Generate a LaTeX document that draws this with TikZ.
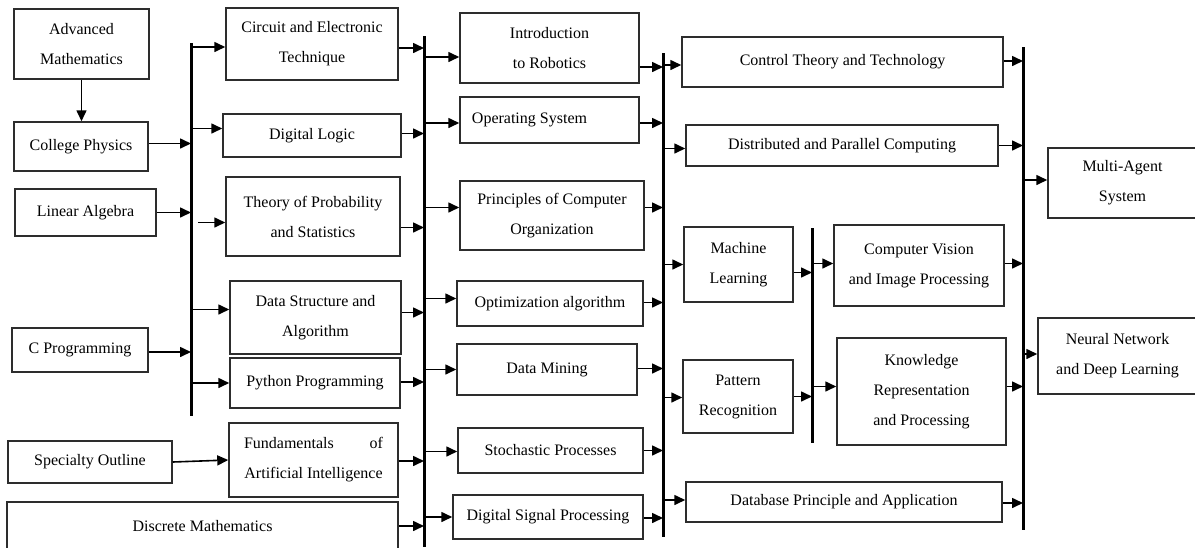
\documentclass[tikz,border=0pt]{standalone}
\usepackage{fontspec}
\setmainfont{Liberation Serif}
\usetikzlibrary{arrows.meta, calc}
\definecolor{boxgray}{RGB}{45,45,45}

\begin{document}
\begin{tikzpicture}[
  x=1pt, y=-1pt,
  cbox/.style={draw=boxgray, line width=1.5pt, align=center, inner sep=2pt, font=\fontsize{16}{30}\selectfont},
  bar/.style={line width=3pt, black},
  arr/.style={line width=1.6pt, -{Triangle[length=11pt, width=10pt]}}
]
  \useasboundingbox (0,0) rectangle (1195,547);

  % basic courses
  \node[cbox, minimum width=135pt, minimum height=70pt] (advmath) at (81.5,44) {Advanced\\Mathematics};
  \node[cbox, minimum width=134pt, minimum height=49pt] (physics) at (81,146.5) {College Physics};
  \node[cbox, minimum width=141pt, minimum height=47pt] (linalg) at (85.5,212.5) {Linear Algebra};
  \node[cbox, minimum width=136pt, minimum height=44pt] (cprog) at (80,350) {C Programming};
  \node[cbox, minimum width=164pt, minimum height=42pt] (outline) at (90,462) {Specialty Outline};
  \node[cbox, minimum width=391pt, minimum height=48pt] (discrete) at (202.5,526) {Discrete Mathematics};

  % second column
  \node[cbox, minimum width=172pt, minimum height=72pt] (circuit) at (312,44) {Circuit and Electronic\\Technique};
  \node[cbox, minimum width=178pt, minimum height=43pt] (diglogic) at (312,135.5) {Digital Logic};
  \node[cbox, minimum width=174pt, minimum height=79pt] (probab) at (313,216.5) {Theory of Probability\\and Statistics};
  \node[cbox, minimum width=171pt, minimum height=73pt] (datastruct) at (315.5,317.5) {Data Structure and\\Algorithm};
  \node[cbox, minimum width=170pt, minimum height=50pt] (python) at (315,383) {Python Programming};
  \node[cbox, minimum width=169pt, minimum height=74pt] (aifund) at (313.5,460) {\makebox[139pt][s]{Fundamentals of}\\Artificial Intelligence};

  % third column
  \node[cbox, minimum width=179pt, minimum height=70pt] (robotics) at (549.5,48) {Introduction\\to Robotics};
  \node[cbox, minimum width=179pt, minimum height=46pt] (opsys) at (549.5,120) {Operating System\hspace*{40pt}};
  \node[cbox, minimum width=184pt, minimum height=69pt] (organiz) at (552,215.5) {Principles of Computer\\Organization};
  \node[cbox, minimum width=186pt, minimum height=45pt] (optim) at (550,303.5) {Optimization algorithm};
  \node[cbox, minimum width=180pt, minimum height=51pt] (mining) at (547,369.5) {Data Mining};
  \node[cbox, minimum width=185pt, minimum height=45pt] (stochastic) at (550.5,450.5) {Stochastic Processes};
  \node[cbox, minimum width=190pt, minimum height=44pt] (signal) at (548,517) {Digital Signal Processing};

  % fourth column
  \node[cbox, minimum width=321pt, minimum height=50pt] (control) at (842.5,62) {Control Theory and Technology};
  \node[cbox, minimum width=312pt, minimum height=41pt] (distrib) at (842,145.5) {Distributed and Parallel Computing};
  \node[cbox, minimum width=109pt, minimum height=75pt] (mlearn) at (738.5,264.5) {Machine\\Learning};
  \node[cbox, minimum width=110pt, minimum height=73pt] (pattern) at (738,396.5) {Pattern\\Recognition};
  \node[cbox, minimum width=316pt, minimum height=40pt] (database) at (844,502) {Database Principle and Application};
  \node[cbox, minimum width=170pt, minimum height=81pt] (vision) at (919,265.5) {Computer Vision\\and Image Processing};
  \node[cbox, minimum width=169pt, minimum height=107pt] (knowledge) at (921.5,391.5) {Knowledge\\Representation\\and Processing};

  % last column
  \node[cbox, minimum width=149pt, minimum height=70pt] (multiagent) at (1122.5,183) {Multi-Agent\\System};
  \node[cbox, minimum width=159pt, minimum height=76pt] (neural) at (1117.5,356) {Neural Network\\and Deep Learning};

  % collecting bars
  \coordinate (b1t) at (191,43);   \coordinate (b1b) at (191,416);
  \coordinate (b2t) at (424,36);   \coordinate (b2b) at (424,547);
  \coordinate (b3t) at (663,53);   \coordinate (b3b) at (663,537);
  \coordinate (b4t) at (812,228);  \coordinate (b4b) at (812,443);
  \coordinate (b5t) at (1023,47);  \coordinate (b5b) at (1023,530);
  \foreach \b in {1,...,5}
    \draw[bar] (b\b t) -- (b\b b);

  % arrows
  \draw[arr] (advmath.south) -- (advmath.south |- physics.north);
  \draw[arr] (outline.east) -- (aifund.west);

  \foreach \n/\dy in {physics/-3, linalg/0, cprog/2}
    \draw[arr] ($(\n.east)+(0,\dy)$) -- ($(\n.east -| b1t)+(0,\dy)$);
  \foreach \n/\dy in {circuit/3, diglogic/-7, datastruct/-8, python/0}
    \draw[arr] ($(\n.west -| b1t)+(0,\dy)$) -- ($(\n.west)+(0,\dy)$);
  \draw[arr] ($(probab.west -| b1t)+(7,6)$) -- ($(probab.west)+(0,6)$);

  \foreach \n/\dy in {circuit/4, diglogic/-2, probab/11, datastruct/-5, python/-1, aifund/1, discrete/0}
    \draw[arr] ($(\n.east)+(0,\dy)$) -- ($(\n.east -| b2t)+(0,\dy)$);
  \foreach \n/\dy in {robotics/9, opsys/3, organiz/-8, optim/-5, mining/0, stochastic/1, signal/0}
    \draw[arr] ($(\n.west -| b2t)+(0,\dy)$) -- ($(\n.west)+(0,\dy)$);

  \foreach \n/\dy in {robotics/19, opsys/3, organiz/-8, optim/-1, mining/-1, stochastic/0, signal/1}
    \draw[arr] ($(\n.east)+(0,\dy)$) -- ($(\n.east -| b3t)+(0,\dy)$);
  \foreach \n/\dy in {control/3, distrib/3, mlearn/0, pattern/1, database/-2}
    \draw[arr] ($(\n.west -| b3t)+(0,\dy)$) -- ($(\n.west)+(0,\dy)$);

  \foreach \n/\dy in {mlearn/8, pattern/0}
    \draw[arr] ($(\n.east)+(0,\dy)$) -- ($(\n.east -| b4t)+(0,\dy)$);
  \foreach \n/\dy in {vision/-2, knowledge/-5}
    \draw[arr] ($(\n.west -| b4t)+(0,\dy)$) -- ($(\n.west)+(0,\dy)$);

  \foreach \n/\dy in {control/-1, distrib/0, vision/-2, knowledge/-5, database/1}
    \draw[arr] ($(\n.east)+(0,\dy)$) -- ($(\n.east -| b5t)+(0,\dy)$);
  \foreach \n/\dy in {multiagent/-3, neural/-2}
    \draw[arr] ($(\n.west -| b5t)+(0,\dy)$) -- ($(\n.west)+(0,\dy)$);
\end{tikzpicture}
\end{document}
